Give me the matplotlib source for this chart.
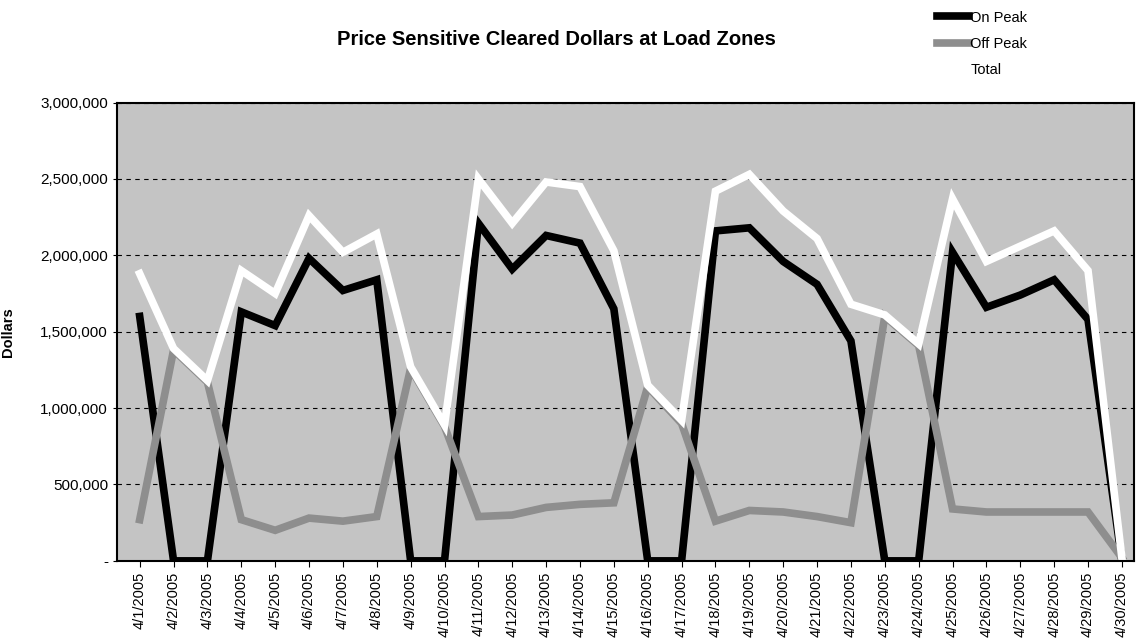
import matplotlib.pyplot as plt
from matplotlib.ticker import FuncFormatter

plt.rcParams['font.family'] = ['Liberation Sans', 'DejaVu Sans']

# data (dollars)
dates = ['4/%d/2005' % d for d in range(1, 31)]
on_peak = [1600000, 0, 0, 1630000, 1540000, 1980000, 1770000, 1840000, 0, 0,
           2210000, 1910000, 2130000, 2080000, 1650000, 0, 0, 2160000, 2180000, 1960000,
           1810000, 1440000, 0, 0, 2020000, 1660000, 1740000, 1840000, 1580000, 0]
off_peak = [270000, 1380000, 1170000, 270000, 200000, 280000, 260000, 290000, 1260000, 880000,
            290000, 300000, 350000, 370000, 380000, 1140000, 900000, 260000, 330000, 320000,
            290000, 250000, 1600000, 1410000, 340000, 320000, 320000, 320000, 320000, 20000]
total = [1880000, 1390000, 1180000, 1900000, 1750000, 2260000, 2020000, 2140000, 1270000, 890000,
         2500000, 2210000, 2480000, 2450000, 2030000, 1150000, 920000, 2420000, 2530000, 2290000,
         2110000, 1680000, 1610000, 1420000, 2370000, 1960000, 2060000, 2160000, 1900000, 20000]

fig = plt.figure(figsize=(11.36, 6.41), dpi=100)
ax = fig.add_axes([0.103, 0.125, 0.895, 0.715])
ax.set_facecolor('#c4c4c4')

x = list(range(len(dates)))
ax.plot(x, on_peak, color='black', lw=5.5, label='On Peak', solid_joinstyle='miter')
ax.plot(x, off_peak, color='#8e8e8e', lw=5.5, label='Off Peak', solid_joinstyle='miter')
ax.plot(x, total, color='white', lw=5.5, label='Total', solid_joinstyle='miter')

ax.set_ylim(0, 3000000)
ax.set_xlim(-0.67, 29.35)
ax.set_yticks(range(0, 3000001, 500000))
ax.yaxis.set_major_formatter(FuncFormatter(lambda v, p: '-' if v == 0 else '{:,.0f}'.format(v)))
ax.set_xticks(x)
ax.set_xticklabels(dates, rotation=90, fontsize=10.5)
ax.tick_params(axis='y', labelsize=11, length=3)
ax.tick_params(axis='x', length=4)
ax.grid(axis='y', color='black', ls=(0, (4, 4)), lw=0.8)
ax.set_axisbelow(True)
for s in ax.spines.values():
    s.set_linewidth(1.5)

ax.set_ylabel('Dollars', fontsize=10.5, fontweight='bold', labelpad=18)
fig.text(0.49, 0.938, 'Price Sensitive Cleared Dollars at Load Zones',
         ha='center', va='center', fontsize=14.5, fontweight='bold')

fig.legend(loc='upper left', bbox_to_anchor=(0.813, 1.004), frameon=False,
           fontsize=10.5, handlelength=2.2, handletextpad=0.1, labelspacing=0.85)

fig.savefig('out.png', dpi=100)
